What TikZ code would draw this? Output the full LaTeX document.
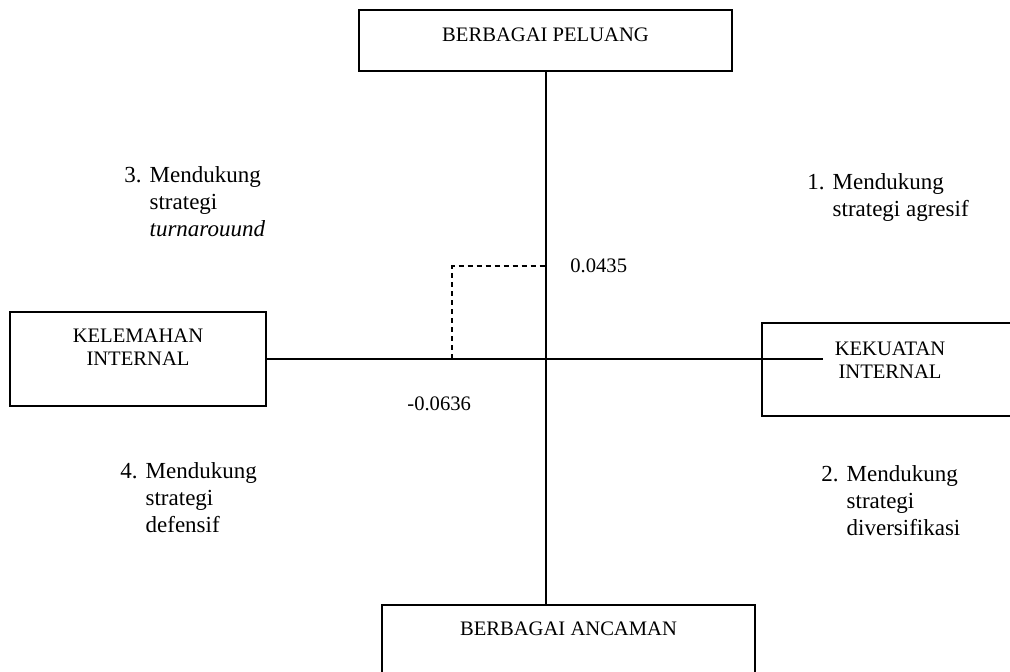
\documentclass[tikz,border=0pt]{standalone}
\usepackage{fontspec}
\setmainfont{Liberation Serif}
\usepackage{tikz}
\usetikzlibrary{calc}
\usetikzlibrary{positioning}
\tikzset{kotak/.style={rectangle, draw, line width=1pt, inner sep=0pt}}
\tikzset{tulisan/.style={inner sep=0pt, align=center, font=\fontsize{10.3}{11.5}\selectfont}}
\tikzset{kuadran/.style={inner sep=0pt, anchor=base west, font=\fontsize{11.5}{13.5}\selectfont}}

\begin{document}
\begin{tikzpicture}[x=0.5pt,y=-0.5pt]
  \useasboundingbox (0,0) rectangle (1010,671);
  \clip (0,0) rectangle (1010,671);
  \foreach \x/\y/\w/\h/\lab in {
    545.5/40.5/373/61/peluang,
    138/358.5/256/94/kelemahan,
    890/369.5/256/93/kekuatan,
    568.5/652/373/94/ancaman%
  } {
    \node[kotak, minimum width=\w*0.5pt, minimum height=\h*0.5pt] (\lab) at (\x, \y) {};
  }
  \node[tulisan, anchor=north] (t-peluang) at ([yshift=-9pt]peluang.north) {BERBAGAI PELUANG};
  \node[tulisan, anchor=north] (t-kelemahan) at ([yshift=-8.75pt]kelemahan.north) {KELEMAHAN\\INTERNAL};
  \node[tulisan, anchor=north] (t-kekuatan) at ([yshift=-9.5pt]kekuatan.north) {KEKUATAN\\INTERNAL};
  \node[tulisan, anchor=north] (t-ancaman) at ([yshift=-8.5pt]ancaman.north) {BERBAGAI ANCAMAN};

  % sumbu
  \coordinate (o) at (peluang.south |- kelemahan.east);
  \coordinate (ujung) at (kelemahan.east -| 823,0);
  \draw[line width=1pt] (peluang.south) -- (peluang.south |- ancaman.north);
  \draw[line width=1pt] (kelemahan.east) -- (ujung);

  % titik posisi
  \coordinate (bawah) at (o -| 452,0);
  \coordinate (atas) at (o |- 0,266);
  \draw[line width=0.7pt, dash pattern=on 2.5pt off 2pt] (bawah) |- (atas);
  \node[tulisan, anchor=west] (nilai-y) at (570, 266) {0.0435};
  \node[tulisan, anchor=west] (nilai-x) at (407, 404) {-0.0636};

  % kuadran
  \node[kuadran] (k1) at (807, 189) {\begin{tabular}[t]{@{}l@{\hspace{4pt}}l@{}}1. & Mendukung\\ & strategi agresif\end{tabular}};
  \node[kuadran] (k2) at (821, 481) {\begin{tabular}[t]{@{}l@{\hspace{4pt}}l@{}}2. & Mendukung\\ & strategi\\ & diversifikasi\end{tabular}};
  \node[kuadran] (k3) at (124, 182) {\begin{tabular}[t]{@{}l@{\hspace{4pt}}l@{}}3. & Mendukung\\ & strategi\\ & \textit{turnarouund}\end{tabular}};
  \node[kuadran] (k4) at (120, 478) {\begin{tabular}[t]{@{}l@{\hspace{4pt}}l@{}}4. & Mendukung\\ & strategi\\ & defensif\end{tabular}};
\end{tikzpicture}
\end{document}
